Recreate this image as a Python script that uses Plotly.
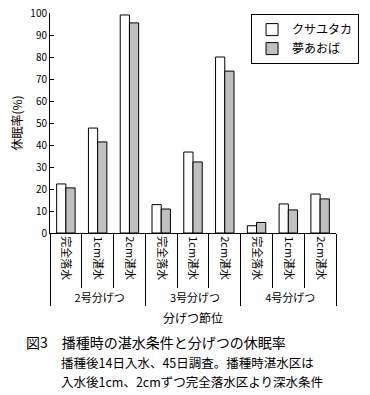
import plotly.graph_objects as go

groups = ["2号分げつ", "3号分げつ", "4号分げつ"]
conditions = ["完全落水", "1cm湛水", "2cm湛水"]
series_names = ["クサユタカ", "夢あおば"]
kusayutaka = [22.3, 47.7, 99.1, 12.9, 36.8, 80.0, 3.3, 13.2, 17.7]
yumeaoba = [20.5, 41.4, 95.5, 10.9, 32.3, 73.6, 4.8, 10.5, 15.5]
y_ticks = [0, 10, 20, 30, 40, 50, 60, 70, 80, 90, 100]

xg = [g for g in groups for _ in conditions]
xc = [c for _ in groups for c in conditions]

FONT = "Noto Sans CJK JP"

fig = go.Figure()
fig.add_trace(go.Bar(x=[xg, xc], y=kusayutaka, name=series_names[0],
                     marker=dict(color="white", line=dict(color="black", width=1))))
fig.add_trace(go.Bar(x=[xg, xc], y=yumeaoba, name=series_names[1],
                     marker=dict(color="#c0c0c0", line=dict(color="black", width=1))))

fig.update_layout(
    width=370, height=395,
    margin=dict(l=50, r=11, t=13, b=162),
    paper_bgcolor="white", plot_bgcolor="white",
    barmode="group", bargap=0.42, bargroupgap=0,
    font=dict(family=FONT, color="black", size=11),
    showlegend=True,
    legend=dict(x=0.703, y=0.995, xanchor="left", yanchor="top",
                bordercolor="black", borderwidth=1, bgcolor="white",
                font=dict(size=12), itemwidth=30, tracegroupgap=0),
    xaxis=dict(type="multicategory", showline=True, linecolor="black", linewidth=1,
               ticks="outside", ticklen=54, tickcolor="black", tickangle=90,
               tickfont=dict(size=11), showdividers=True, dividercolor="black",
               dividerwidth=1, showgrid=False, automargin=False),
    yaxis=dict(range=[0, 100], tickvals=y_ticks, showline=True, linecolor="black",
               linewidth=1, ticks="inside", ticklen=4, tickcolor="black",
               showgrid=False, zeroline=False, tickfont=dict(size=10), automargin=False,
               title=dict(text="休眠率(%)", font=dict(size=12), standoff=5)),
)

fig.add_annotation(text="分げつ節位", xref="paper", yref="paper",
                   x=0.5, y=-0.386, xanchor="center", yanchor="middle", showarrow=False,
                   font=dict(size=12))
fig.add_annotation(text="図3　播種時の湛水条件と分げつの休眠率", xref="paper", yref="paper",
                   x=-0.09, y=-0.495, xanchor="left", yanchor="middle", showarrow=False,
                   font=dict(size=14))
fig.add_annotation(text="播種後14日入水、45日調査。播種時湛水区は", xref="paper", yref="paper",
                   x=0.03, y=-0.59, xanchor="left", yanchor="middle", showarrow=False,
                   font=dict(size=12.5))
fig.add_annotation(text="入水後1cm、2cmずつ完全落水区より深水条件", xref="paper", yref="paper",
                   x=0.03, y=-0.675, xanchor="left", yanchor="middle", showarrow=False,
                   font=dict(size=12.5))

fig.write_html("out.html", config={"displayModeBar": False},
               post_script="document.body.style.margin='0';document.body.style.overflow='hidden';")
